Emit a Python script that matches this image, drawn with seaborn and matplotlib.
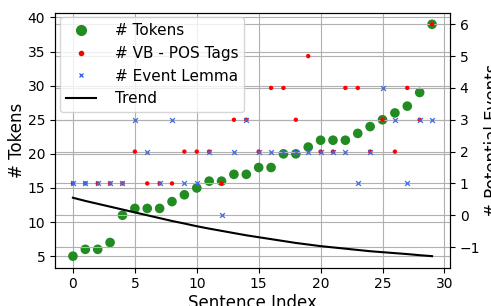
import matplotlib
matplotlib.use("Agg")
import matplotlib.pyplot as plt
import pandas as pd
import seaborn as sns
from matplotlib.lines import Line2D

sentence_index = list(range(30))

tokens = [5, 6, 6, 7, 11, 12, 12, 12, 13, 14,
          15, 16, 16, 17, 17, 18, 18, 20, 20, 21,
          22, 22, 22, 23, 24, 25, 26, 27, 29, 39]

vb_pos_tags = [1, 1, 1, 1, 1, 2, 1, 1, 1, 2,
               2, 2, 1, 3, 3, 2, 4, 4, 3, 5,
               2, 2, 4, 4, 2, 3, 2, 4, 3, 6]

event_lemma = [1, 1, 1, 1, 1, 3, 2, 1, 3, 1,
               1, 2, 0, 2, 3, 2, 2, 2, 2, 2,
               2, 2, 2, 1, 2, 4, 3, 1, 3, 3]

trend = [0.55, 0.45, 0.36, 0.27, 0.18, 0.09, 0.00, -0.09, -0.18, -0.26,
         -0.345, -0.42, -0.49, -0.56, -0.63, -0.69, -0.75, -0.81, -0.87, -0.92,
         -0.97, -1.01, -1.05, -1.09, -1.13, -1.16, -1.19, -1.22, -1.255, -1.285]

df = pd.DataFrame({
    "idx": sentence_index,
    "tokens": tokens,
    "vb": vb_pos_tags,
    "event": event_lemma,
    "trend": trend,
})

fig = plt.figure(figsize=(4.91, 3.06), dpi=100)
ax = fig.add_axes([0.112, 0.125, 0.8045, 0.8335])
ax2 = ax.twinx()

#
# Left axis: tokens
#
sns.scatterplot(data=df, x="idx", y="tokens", ax=ax, color="forestgreen",
                s=48, edgecolor="none", zorder=3)

#
# Right axis: VB tags, event lemma, trend
#
sns.scatterplot(data=df, x="idx", y="vb", ax=ax2, color="red",
                s=10, edgecolor="none", zorder=3)
sns.scatterplot(data=df, x="idx", y="event", ax=ax2, color="royalblue",
                marker="x", s=12, linewidth=0.9, zorder=3)
sns.lineplot(data=df, x="idx", y="trend", ax=ax2, color="black",
             linewidth=1.5, zorder=3)

ax.grid(True, color="#b0b0b0", linewidth=0.8)
ax2.grid(True, color="#b0b0b0", linewidth=0.8)

ax.set_xlabel("Sentence Index", fontsize=12, labelpad=2)
ax.set_ylabel("# Tokens", fontsize=12, labelpad=1)
ax2.set_ylabel("# Potential Events", fontsize=12, labelpad=3)
ax.set_yticks([5, 10, 15, 20, 25, 30, 35, 40])
ax.set_xticks([0, 5, 10, 15, 20, 25, 30])
ax2.set_yticks([-1, 0, 1, 2, 3, 4, 5, 6])
ax.tick_params(labelsize=10)
ax2.tick_params(labelsize=10)

handles = [
    Line2D([], [], linestyle="none", marker="o", color="forestgreen", markersize=7),
    Line2D([], [], linestyle="none", marker="o", color="red", markersize=3),
    Line2D([], [], linestyle="none", marker="x", color="royalblue", markersize=3.5),
    Line2D([], [], color="black", linewidth=1.5),
]
labels = ["# Tokens", "# VB - POS Tags", "# Event Lemma", "Trend"]
ax2.legend(handles, labels, loc="upper left", fontsize=11,
           borderaxespad=0.3, handletextpad=1.2)

fig.savefig("out.png", dpi=100)
plt.close(fig)
